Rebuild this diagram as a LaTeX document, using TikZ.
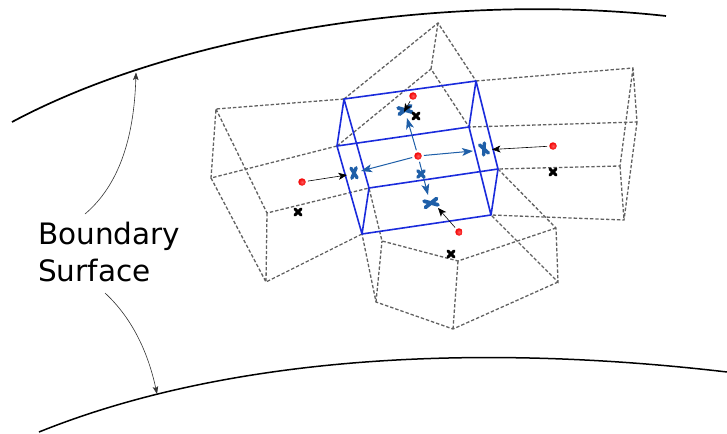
\documentclass[tikz,border=0pt]{standalone}
\usepackage{fontspec}
\setmainfont{DejaVu Sans}
\usetikzlibrary{arrows.meta,shadings}
\definecolor{bx}{HTML}{1F5FA8}
\definecolor{boxblue}{HTML}{1A2BDC}
\tikzset{x=1pt,y=-1pt,
 cellface/.style={draw=black!62,line width=1.3pt,dash pattern=on 3.4pt off 2pt},
 bluebox/.style={draw=boxblue,line width=1.6pt},
 pin/.style={-{Stealth[length=8.5pt,width=7pt,inset=2.2pt]},black,line width=0.6pt,shorten <=2pt},
 bluepin/.style={-{Stealth[length=11pt,width=8pt,inset=2.8pt]},bx,line width=1pt,shorten <=2pt},
 note/.style={-{Stealth[length=7.5pt,width=5.5pt,inset=1.5pt]},black!80,line width=0.6pt},
 redpt/.style={circle,inner sep=0pt,minimum size=7.5pt,shading=radial,inner color=red!65!white,outer color=red!95!black},
 lab/.style={font=\fontsize{29.5}{37}\selectfont,align=left,anchor=base west,inner sep=0pt},
 pics/xcross/.style args={#1/#2/#3/#4}{code={
   \draw[line width=#3,color=#4,line cap=round] (-#1,-#2)--(#1,#2) (-#1,#2)--(#1,-#2);}}}
\begin{document}
\begin{tikzpicture}
\useasboundingbox (0,0) rectangle (727,433);
% boundary curves
\coordinate (t0) at (12,122); \coordinate (t1) at (666,16);
\coordinate (b0) at (39,432); \coordinate (b1) at (727,372);
\draw[line width=1.7pt] (t0) .. controls (180,32) and (450,-8) .. (t1);
\draw[line width=1.5pt] (b0) .. controls (230,355) and (480,343) .. (b1);
% vertices
\foreach \n/\x/\y in {a/344/99,b/476/81,c/337/146,d/469/127,e/369/188,f/498/169,g/362/234,h/491/215,
 t1/438/23,t2/431/69,
 l1/216/109,l2/211/178,l3/267/213,l4/266/282,
 r1/633/68,r2/637/122,r3/620/166,r4/624/220,
 u1/556/228,u2/558/282,u3/458/261,u4/453/329,u5/376/302,u6/382/241}
 {\coordinate (\n) at (\x,\y);}
% dashed neighbours
\draw[cellface] (a)--(t1)--(b) (c)--(t2)--(d) (t1)--(t2);
\draw[cellface] (a)--(l1)--(l2)--(c) (l1)--(l3)--(e) (l2)--(l4)--(g) (l3)--(l4);
\draw[cellface] (b)--(r1)--(r2)--(d) (r1)--(r3)--(f) (r2)--(r4)--(h) (r3)--(r4);
\draw[cellface] (f)--(u1)--(u2)--(h) (u1)--(u3)--(u6)--(e) (u2)--(u4)--(u5)--(g) (u3)--(u4) (u5)--(u6);
% blue box
\draw[bluebox] (a)--(b) (c)--(d) (e)--(f) (g)--(h);
\draw[bluebox,line join=round] (a)--(c)--(g)--(e)--cycle;
\draw[bluebox,line join=round] (b)--(d)--(h)--(f)--cycle;
% points
\node[redpt] (pc) at (418,156) {};
\node[redpt] (pt) at (413,96) {};
\node[redpt] (pl) at (302,182) {};
\node[redpt] (pr) at (553,146) {};
\node[redpt] (pb) at (459,232) {};
\coordinate (at) at (407,118); \coordinate (al) at (361,171); \coordinate (ar) at (473,151); \coordinate (ab) at (428,195);
\coordinate (kt) at (404,112); \coordinate (kl) at (347,175); \coordinate (kr) at (492,149.5); \coordinate (kb) at (438,208);
% blue crosses
\pic[rotate=10] at (405,110) {xcross=6.4/3.2/3.8pt/bx};
\pic[rotate=12] at (431,203) {xcross=6.4/3.2/3.8pt/bx};
\pic[rotate=5] at (354,173) {xcross=2.6/5/3.4pt/bx};
\pic[rotate=22] at (484,149) {xcross=2.6/5.4/3.4pt/bx};
\pic at (421,174) {xcross=3.2/3.2/3.4pt/bx};
% black crosses
\pic at (416,116) {xcross=3.2/3.2/2.9pt/black};
\pic at (298,212) {xcross=3.2/3.2/2.9pt/black};
\pic at (553,172) {xcross=3.2/3.2/2.9pt/black};
\pic at (451,254) {xcross=3.2/3.2/2.9pt/black};
% arrows
\draw[bluepin] (pc)--(at);
\draw[bluepin] (pc)--(al);
\draw[bluepin] (pc)--(ar);
\draw[bluepin] (pc)--(ab);
\draw[pin] (pt)--(kt);
\draw[pin] (pl)--(kl);
\draw[pin] (pr)--(kr);
\draw[pin] (pb)--(kb);
% label
\node[lab] (bs) at (38,281) {Boundary\\Surface};
\coordinate (n1) at (136,72.5); \coordinate (n2) at (157,394);
\coordinate (n1s) at (85,214); \coordinate (n2s) at (105,293);
\draw[note] (n1s) .. controls (118,186) and (134,140) .. (n1);
\draw[note] (n2s) .. controls (132,318) and (148,352) .. (n2);
\end{tikzpicture}
\end{document}
